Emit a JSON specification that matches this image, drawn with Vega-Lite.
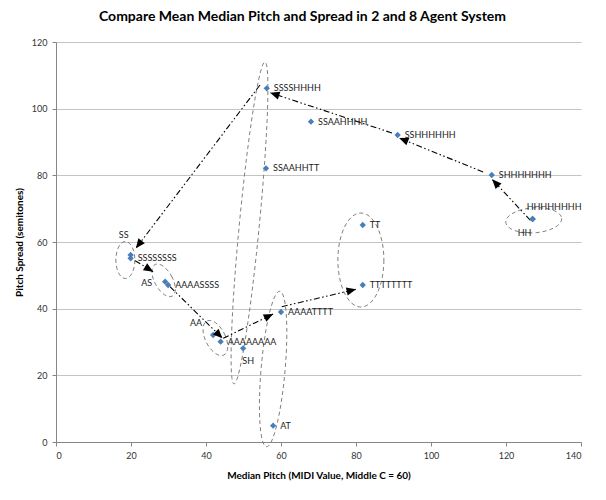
{
  "$schema": "https://vega.github.io/schema/vega-lite/v6.json",
  "width": 525,
  "height": 400,
  "autosize": "none",
  "padding": {"left": 56, "top": 42, "right": 25, "bottom": 58},
  "background": "white",
  "title": {
    "text": "Compare Mean Median Pitch and Spread in 2 and 8 Agent System",
    "font": "Lato",
    "fontSize": 14,
    "fontWeight": "bold",
    "color": "#000000",
    "anchor": "middle",
    "offset": 14,
    "dx": -16
  },
  "config": {
    "view": {"stroke": null},
    "axis": {
      "labelFont": "Lato",
      "labelFontSize": 9,
      "labelColor": "#333333",
      "titleFont": "Lato",
      "titleFontSize": 10,
      "titleFontWeight": "bold",
      "titleColor": "#000000",
      "domainColor": "#868686",
      "tickColor": "#868686",
      "tickSize": 4,
      "gridColor": "#c4c4c4",
      "gridWidth": 1
    }
  },
  "datasets": {
    "points": [
      {"label": "SSSSHHHH", "x": 56.2, "y": 106.1},
      {"label": "SSAAHHHH", "x": 68.0, "y": 96.1},
      {"label": "SSAAHHTT", "x": 56.0, "y": 82.1},
      {"label": "SSHHHHHH", "x": 91.1, "y": 92.1},
      {"label": "SHHHHHHH", "x": 116.2, "y": 80.1},
      {"label": "HHHHHHHH", "x": 127.1, "y": 66.9},
      {"label": "HH", "x": 127.1, "y": 66.9},
      {"label": "TT", "x": 81.8, "y": 65.1},
      {"label": "TTTTTTTT", "x": 81.8, "y": 47.1},
      {"label": "AAAATTTT", "x": 60.0, "y": 39.0},
      {"label": "AT", "x": 57.9, "y": 4.9},
      {"label": "SH", "x": 49.9, "y": 28.1},
      {"label": "AAAAAAAA", "x": 43.9, "y": 30.1},
      {"label": "AA", "x": 41.9, "y": 32.1},
      {"label": "AS", "x": 29.1, "y": 48.1},
      {"label": "AAAASSSS", "x": 29.9, "y": 47.1},
      {"label": "SS", "x": 19.9, "y": 56.1},
      {"label": "SSSSSSSS", "x": 19.9, "y": 55.1}
    ],
    "groups": [
      {"g": "S", "x": 51.6, "y": 65.7},
      {"g": "T1", "x": 57.9, "y": 21.9},
      {"g": "TT", "x": 81.3, "y": 54.6},
      {"g": "HH", "x": 127.4, "y": 66.5},
      {"g": "SS", "x": 18.5, "y": 54.6},
      {"g": "AS", "x": 28.7, "y": 48.5},
      {"g": "AA", "x": 42.5, "y": 31.2}
    ],
    "arrows": [
      {"x": 126.5, "y": 66.5, "x2": 116.3, "y2": 78.8},
      {"x": 113.9, "y": 81.0, "x2": 91.5, "y2": 91.2},
      {"x": 89.6, "y": 92.7, "x2": 57.1, "y2": 104.8},
      {"x": 54.4, "y": 107.1, "x2": 21.3, "y2": 58.1},
      {"x": 21.1, "y": 54.4, "x2": 25.9, "y2": 51.1},
      {"x": 30.4, "y": 46.6, "x2": 44.4, "y2": 31.1},
      {"x": 44.6, "y": 31.1, "x2": 57.9, "y2": 38.4},
      {"x": 60.2, "y": 40.6, "x2": 80.0, "y2": 45.8}
    ]
  },
  "layer": [
    {
      "data": {"name": "groups"},
      "mark": {"type": "point", "filled": false, "stroke": "#808080", "strokeWidth": 1, "strokeDash": [4, 3], "size": 4, "opacity": 1},
      "encoding": {
        "x": {"field": "x", "type": "quantitative", "scale": {"domain": [0, 140], "nice": false},
          "axis": {"values": [0, 20, 40, 60, 80, 100, 120, 140], "grid": false, "labelPadding": 5, "title": "Median Pitch (MIDI Value, Middle C = 60)", "titlePadding": 10}},
        "y": {"field": "y", "type": "quantitative", "scale": {"domain": [0, 120], "nice": false},
          "axis": {"values": [0, 20, 40, 60, 80, 100, 120], "grid": true, "labelPadding": 5, "title": "Pitch Spread (semitones)", "titlePadding": 7}},
        "shape": {
          "field": "g", "type": "nominal", "legend": null,
          "scale": {
            "domain": ["S", "T1", "TT", "HH", "SS", "AS", "AA"],
            "range": [
              "M9.95 0.96C1.40 89.86 -9.99 161.49 -15.49 160.96C-20.99 160.43 -18.51 87.94 -9.95 -0.96C-1.40 -89.86 9.99 -161.49 15.49 -160.96C20.99 -160.43 18.51 -87.94 9.95 0.96Z",
              "M11.96 1.03C8.28 43.95 -0.06 78.28 -6.66 77.72C-13.27 77.15 -15.64 41.90 -11.96 -1.03C-8.28 -43.95 0.06 -78.28 6.66 -77.72C13.27 -77.15 15.64 -41.90 11.96 1.03Z",
              "M23 0C23 25.96 12.70 47 0 47C-12.70 47 -23 25.96 -23 0C-23 -25.96 -12.70 -47 0 -47C12.70 -47 23 -25.96 23 0Z",
              "M27.93 -1.95C28.41 4.94 16.30 11.39 0.87 12.47C-14.56 13.55 -27.45 8.84 -27.93 1.95C-28.41 -4.94 -16.30 -11.39 -0.87 -12.47C14.56 -13.55 27.45 -8.84 27.93 -1.95Z",
              "M9.5 0C9.5 10.22 5.25 18.5 0 18.5C-5.25 18.5 -9.5 10.22 -9.5 0C-9.5 -10.22 -5.25 -18.5 0 -18.5C5.25 -18.5 9.5 -10.22 9.5 0Z",
              "M7.87 -4.36C12.69 4.33 13.07 13.33 8.73 15.74C4.38 18.15 -3.05 13.06 -7.87 4.36C-12.69 -4.33 -13.07 -13.33 -8.73 -15.74C-4.38 -18.15 3.05 -13.06 7.87 -4.36Z",
              "M8.94 -4.48C13.64 4.91 13.45 14.52 8.51 16.99C3.57 19.46 -4.24 13.86 -8.94 4.48C-13.64 -4.91 -13.45 -14.52 -8.51 -16.99C-3.57 -19.46 4.24 -13.86 8.94 -4.48Z"
            ]
          }
        }
      }
    },
    {
      "data": {"name": "arrows"},
      "mark": {"type": "rule", "color": "#000000", "strokeWidth": 1.1, "strokeDash": [6, 2.5, 1.5, 2.5, 1.5, 2.5]},
      "encoding": {
        "x": {"field": "x", "type": "quantitative"},
        "y": {"field": "y", "type": "quantitative"},
        "x2": {"field": "x2"},
        "y2": {"field": "y2"}
      }
    },
    {
      "data": {"name": "points"},
      "mark": {"type": "point", "shape": "diamond", "filled": true, "color": "#4a7ebb", "size": 40, "opacity": 1},
      "encoding": {
        "x": {"field": "x", "type": "quantitative"},
        "y": {"field": "y", "type": "quantitative"}
      }
    },
    {
      "data": {"name": "arrows"},
      "transform": [
        {"calculate": "atan2((datum.x2 - datum.x) * 3.75, (datum.y2 - datum.y) * 3.333) * 180 / PI", "as": "ang"}
      ],
      "mark": {"type": "point", "shape": "M0 0L-0.9 2.1L0.9 2.1Z", "filled": true, "color": "#000000", "size": 81, "opacity": 1},
      "encoding": {
        "x": {"field": "x2", "type": "quantitative"},
        "y": {"field": "y2", "type": "quantitative"},
        "angle": {"field": "ang", "type": "quantitative", "scale": null}
      }
    },
    {
      "data": {"name": "points"},
      "transform": [{"filter": {"not": {"field": "label", "oneOf": ["SS", "AS", "AA", "SH", "HH", "HHHHHHHH"]}}}],
      "mark": {"type": "text", "align": "left", "baseline": "middle", "dx": 7, "font": "Lato", "fontSize": 9, "color": "#222222"},
      "encoding": {
        "x": {"field": "x", "type": "quantitative"},
        "y": {"field": "y", "type": "quantitative"},
        "text": {"field": "label"}
      }
    },
    {
      "data": {"name": "points"},
      "transform": [{"filter": {"field": "label", "equal": "SS"}}],
      "mark": {"type": "text", "align": "center", "baseline": "middle", "dx": -7, "dy": -20, "font": "Lato", "fontSize": 9, "color": "#222222"},
      "encoding": {"x": {"field": "x", "type": "quantitative"}, "y": {"field": "y", "type": "quantitative"}, "text": {"field": "label"}}
    },
    {
      "data": {"name": "points"},
      "transform": [{"filter": {"field": "label", "equal": "AS"}}],
      "mark": {"type": "text", "align": "right", "baseline": "middle", "dx": -13, "dy": 1, "font": "Lato", "fontSize": 9, "color": "#222222"},
      "encoding": {"x": {"field": "x", "type": "quantitative"}, "y": {"field": "y", "type": "quantitative"}, "text": {"field": "label"}}
    },
    {
      "data": {"name": "points"},
      "transform": [{"filter": {"field": "label", "equal": "AA"}}],
      "mark": {"type": "text", "align": "right", "baseline": "middle", "dx": -11, "dy": -12, "font": "Lato", "fontSize": 9, "color": "#222222"},
      "encoding": {"x": {"field": "x", "type": "quantitative"}, "y": {"field": "y", "type": "quantitative"}, "text": {"field": "label"}}
    },
    {
      "data": {"name": "points"},
      "transform": [{"filter": {"field": "label", "equal": "SH"}}],
      "mark": {"type": "text", "align": "center", "baseline": "middle", "dx": 5, "dy": 13, "font": "Lato", "fontSize": 9, "color": "#222222"},
      "encoding": {"x": {"field": "x", "type": "quantitative"}, "y": {"field": "y", "type": "quantitative"}, "text": {"field": "label"}}
    },
    {
      "data": {"name": "points"},
      "transform": [{"filter": {"field": "label", "equal": "HH"}}],
      "mark": {"type": "text", "align": "center", "baseline": "middle", "dx": -8, "dy": 14, "font": "Lato", "fontSize": 9, "color": "#222222"},
      "encoding": {"x": {"field": "x", "type": "quantitative"}, "y": {"field": "y", "type": "quantitative"}, "text": {"field": "label"}}
    },
    {
      "data": {"name": "points"},
      "transform": [{"filter": {"field": "label", "equal": "HHHHHHHH"}}],
      "mark": {"type": "text", "align": "left", "baseline": "middle", "dx": -6, "dy": -12, "font": "Lato", "fontSize": 9, "color": "#222222"},
      "encoding": {"x": {"field": "x", "type": "quantitative"}, "y": {"field": "y", "type": "quantitative"}, "text": {"field": "label"}}
    }
  ]
}
